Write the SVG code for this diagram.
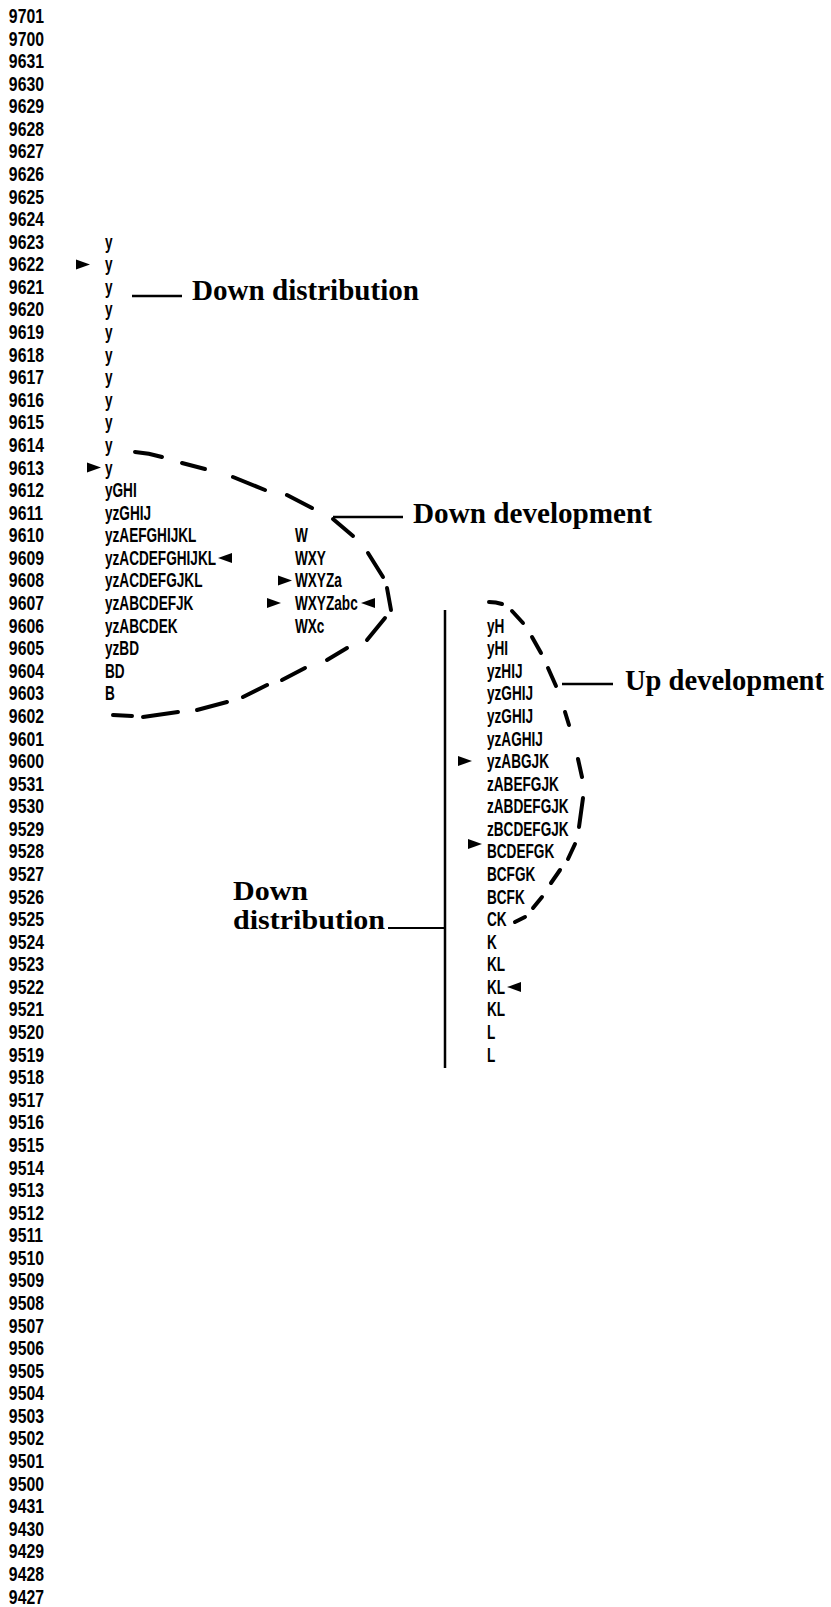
<svg xmlns="http://www.w3.org/2000/svg" width="831" height="1607" viewBox="0 0 831 1607">
<style>
.num{font-family:"Liberation Sans",Arial,sans-serif;font-weight:bold;font-size:21px;fill:#000}
.lab{font-family:"Liberation Serif","Times New Roman",serif;font-weight:bold;font-size:29px;fill:#000}
.dash{stroke:#000;stroke-width:4;stroke-linecap:round;fill:none}
.ln{stroke:#000;stroke-width:2.5;fill:none}
.tri{fill:#000}
</style>
<rect width="831" height="1607" fill="#fff"/>
<g id="row-labels" class="num" transform="scale(0.752,1)">
<text x="11.8" y="23">9701</text>
<text x="11.8" y="45.6">9700</text>
<text x="11.8" y="68.2">9631</text>
<text x="11.8" y="90.7">9630</text>
<text x="11.8" y="113.3">9629</text>
<text x="11.8" y="135.9">9628</text>
<text x="11.8" y="158.5">9627</text>
<text x="11.8" y="181.1">9626</text>
<text x="11.8" y="203.6">9625</text>
<text x="11.8" y="226.2">9624</text>
<text x="11.8" y="248.8">9623</text>
<text x="11.8" y="271.4">9622</text>
<text x="11.8" y="294">9621</text>
<text x="11.8" y="316.5">9620</text>
<text x="11.8" y="339.1">9619</text>
<text x="11.8" y="361.7">9618</text>
<text x="11.8" y="384.3">9617</text>
<text x="11.8" y="406.9">9616</text>
<text x="11.8" y="429.4">9615</text>
<text x="11.8" y="452">9614</text>
<text x="11.8" y="474.6">9613</text>
<text x="11.8" y="497.2">9612</text>
<text x="11.8" y="519.8">9611</text>
<text x="11.8" y="542.3">9610</text>
<text x="11.8" y="564.9">9609</text>
<text x="11.8" y="587.5">9608</text>
<text x="11.8" y="610.1">9607</text>
<text x="11.8" y="632.7">9606</text>
<text x="11.8" y="655.2">9605</text>
<text x="11.8" y="677.8">9604</text>
<text x="11.8" y="700.4">9603</text>
<text x="11.8" y="723">9602</text>
<text x="11.8" y="745.6">9601</text>
<text x="11.8" y="768.1">9600</text>
<text x="11.8" y="790.7">9531</text>
<text x="11.8" y="813.3">9530</text>
<text x="11.8" y="835.9">9529</text>
<text x="11.8" y="858.5">9528</text>
<text x="11.8" y="881">9527</text>
<text x="11.8" y="903.6">9526</text>
<text x="11.8" y="926.2">9525</text>
<text x="11.8" y="948.8">9524</text>
<text x="11.8" y="971.4">9523</text>
<text x="11.8" y="993.9">9522</text>
<text x="11.8" y="1016.5">9521</text>
<text x="11.8" y="1039.1">9520</text>
<text x="11.8" y="1061.7">9519</text>
<text x="11.8" y="1084.3">9518</text>
<text x="11.8" y="1106.8">9517</text>
<text x="11.8" y="1129.4">9516</text>
<text x="11.8" y="1152">9515</text>
<text x="11.8" y="1174.6">9514</text>
<text x="11.8" y="1197.2">9513</text>
<text x="11.8" y="1219.7">9512</text>
<text x="11.8" y="1242.3">9511</text>
<text x="11.8" y="1264.9">9510</text>
<text x="11.8" y="1287.5">9509</text>
<text x="11.8" y="1310.1">9508</text>
<text x="11.8" y="1332.6">9507</text>
<text x="11.8" y="1355.2">9506</text>
<text x="11.8" y="1377.8">9505</text>
<text x="11.8" y="1400.4">9504</text>
<text x="11.8" y="1423">9503</text>
<text x="11.8" y="1445.5">9502</text>
<text x="11.8" y="1468.1">9501</text>
<text x="11.8" y="1490.7">9500</text>
<text x="11.8" y="1513.3">9431</text>
<text x="11.8" y="1535.9">9430</text>
<text x="11.8" y="1558.4">9429</text>
<text x="11.8" y="1581">9428</text>
<text x="11.8" y="1603.6">9427</text>
</g>
<g id="left-column" class="num" transform="scale(0.648,1)">
<text x="162" y="248.8">y</text>
<text x="162" y="271.4">y</text>
<text x="162" y="294">y</text>
<text x="162" y="316.5">y</text>
<text x="162" y="339.1">y</text>
<text x="162" y="361.7">y</text>
<text x="162" y="384.3">y</text>
<text x="162" y="406.9">y</text>
<text x="162" y="429.4">y</text>
<text x="162" y="452">y</text>
<text x="162" y="474.6">y</text>
<text x="162" y="497.2">yGHI</text>
<text x="162" y="519.8">yzGHIJ</text>
<text x="162" y="542.3">yzAEFGHIJKL</text>
<text x="162" y="564.9">yzACDEFGHIJKL</text>
<text x="162" y="587.5">yzACDEFGJKL</text>
<text x="162" y="610.1">yzABCDEFJK</text>
<text x="162" y="632.7">yzABCDEK</text>
<text x="162" y="655.2">yzBD</text>
<text x="162" y="677.8">BD</text>
<text x="162" y="700.4">B</text>
</g>
<g id="middle-column" class="num" transform="scale(0.648,1)">
<text x="455.2" y="542.3">W</text>
<text x="455.2" y="564.9">WXY</text>
<text x="455.2" y="587.5">WXYZa</text>
<text x="455.2" y="610.1">WXYZabc</text>
<text x="455.2" y="632.7">WXc</text>
</g>
<g id="right-column" class="num" transform="scale(0.648,1)">
<text x="751.5" y="632.7">yH</text>
<text x="751.5" y="655.2">yHI</text>
<text x="751.5" y="677.8">yzHIJ</text>
<text x="751.5" y="700.4">yzGHIJ</text>
<text x="751.5" y="723">yzGHIJ</text>
<text x="751.5" y="745.6">yzAGHIJ</text>
<text x="751.5" y="768.1">yzABGJK</text>
<text x="751.5" y="790.7">zABEFGJK</text>
<text x="751.5" y="813.3">zABDEFGJK</text>
<text x="751.5" y="835.9">zBCDEFGJK</text>
<text x="751.5" y="858.5">BCDEFGK</text>
<text x="751.5" y="881">BCFGK</text>
<text x="751.5" y="903.6">BCFK</text>
<text x="751.5" y="926.2">CK</text>
<text x="751.5" y="948.8">K</text>
<text x="751.5" y="971.4">KL</text>
<text x="751.5" y="993.9">KL</text>
<text x="751.5" y="1016.5">KL</text>
<text x="751.5" y="1039.1">L</text>
<text x="751.5" y="1061.7">L</text>
</g>
<g id="markers" class="tri">
<polygon points="76,259.4 90,264.4 76,269.4"/>
<polygon points="87,462.6 101,467.6 87,472.6"/>
<polygon points="232,552.9 218,557.9 232,562.9"/>
<polygon points="278,575.5 292,580.5 278,585.5"/>
<polygon points="267,598 281,603 267,608"/>
<polygon points="375,598 361,603 375,608"/>
<polygon points="458,756 472,761 458,766"/>
<polygon points="468,839 482,844 468,849"/>
<polygon points="521,982 507,987 521,992"/>
</g>
<g id="down-development-bracket" class="dash">
<path d="M135,452 Q149,453 162,457"/>
<path d="M182,463 L205,469"/>
<path d="M233,477 L265,490"/>
<path d="M287,495 L312,508"/>
<path d="M333,519 L353,536"/>
<path d="M368,553 L383,577"/>
<path d="M387,588 L391,610"/>
<path d="M385,618 L367,640"/>
<path d="M347,648 L327,660"/>
<path d="M305,668 L282,680"/>
<path d="M267,685 L243,697"/>
<path d="M227,702 L197,710"/>
<path d="M178,712 L143,717"/>
<path d="M132,716 L113,715"/>
</g>
<g id="up-development-bracket" class="dash">
<path d="M489,602 Q496,602 502,604"/>
<path d="M512,611 L523,623"/>
<path d="M532,637 L541,653"/>
<path d="M548,668 L556,686"/>
<path d="M565,712 L569,725"/>
<path d="M578,759 L582,777"/>
<path d="M583,798 L579,827"/>
<path d="M575,844 L568,859"/>
<path d="M560,870 L551,883"/>
<path d="M542,897 L533,908"/>
<path d="M525,917 L515,922"/>
</g>
<g id="connectors" class="ln">
<line x1="132" y1="296" x2="182" y2="296"/>
<line x1="333" y1="517" x2="403" y2="517"/>
<line x1="562" y1="684" x2="613" y2="684"/>
<line x1="445" y1="610" x2="445" y2="1068"/>
<line x1="388" y1="928" x2="445" y2="928" stroke-width="2"/>
</g>
<g id="label-down-distribution-top"><text class="lab" x="192" y="300" textLength="227" lengthAdjust="spacingAndGlyphs">Down distribution</text></g>
<g id="label-down-development"><text class="lab" x="413" y="523" textLength="239" lengthAdjust="spacingAndGlyphs">Down development</text></g>
<g id="label-up-development"><text class="lab" x="625" y="690" textLength="199" lengthAdjust="spacingAndGlyphs">Up development</text></g>
<g id="label-down-distribution-bottom" class="lab" style="font-size:27px">
<text x="233" y="900" textLength="75" lengthAdjust="spacingAndGlyphs">Down</text>
<text x="233" y="929" textLength="152" lengthAdjust="spacingAndGlyphs">distribution</text>
</g>
</svg>
